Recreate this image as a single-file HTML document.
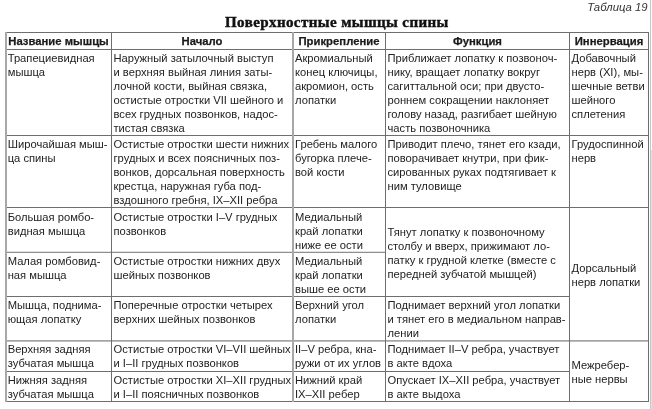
<!DOCTYPE html>
<html><head><meta charset="utf-8"><style>
html,body{margin:0;padding:0;background:#fff;width:652px;height:409px;overflow:hidden;position:relative}
.l{position:absolute}
.t{position:absolute;font-family:"Liberation Sans",sans-serif;font-size:11.2px;line-height:14px;color:#222;white-space:nowrap}
.h{position:absolute;font-family:"Liberation Sans",sans-serif;font-weight:bold;font-size:11.3px;line-height:14px;color:#1a1a1a;-webkit-text-stroke:0.25px #1a1a1a;white-space:nowrap;text-align:center}
.ttl{position:absolute;font-family:"Liberation Serif",serif;font-weight:bold;font-size:13.7px;line-height:14px;color:#111;-webkit-text-stroke:0.4px #111;letter-spacing:0.35px;white-space:nowrap;transform-origin:0 0}
.tab{position:absolute;font-family:"Liberation Sans",sans-serif;font-style:italic;font-size:11.3px;line-height:14px;color:#333;white-space:nowrap;text-align:right}
#wrap{position:absolute;left:0;top:0;width:652px;height:409px;will-change:transform;background:transparent}
</style></head><body><div id=wrap>

<div class="l" style="left:5px;top:32px;width:644px;height:1px;background:#6e6e6e"></div>
<div class="l" style="left:5px;top:49px;width:644px;height:1px;background:#6e6e6e"></div>
<div class="l" style="left:5px;top:135px;width:644px;height:1px;background:#6e6e6e"></div>
<div class="l" style="left:5px;top:207px;width:644px;height:1px;background:#6e6e6e"></div>
<div class="l" style="left:5px;top:251px;width:381px;height:1px;background:#e2e2e2"></div>
<div class="l" style="left:5px;top:252px;width:381px;height:1px;background:#8e8e8e"></div>
<div class="l" style="left:5px;top:296px;width:565px;height:1px;background:#6e6e6e"></div>
<div class="l" style="left:5px;top:340px;width:644px;height:1px;background:#a6a6a6"></div>
<div class="l" style="left:5px;top:341px;width:644px;height:1px;background:#bcbcbc"></div>
<div class="l" style="left:5px;top:371px;width:565px;height:1px;background:#6e6e6e"></div>
<div class="l" style="left:5px;top:401px;width:644px;height:1px;background:#6e6e6e"></div>
<div class="l" style="left:5px;top:32px;width:2px;height:370px;background:#a8a8a8"></div>
<div class="l" style="left:111px;top:32px;width:1px;height:370px;background:#6e6e6e"></div>
<div class="l" style="left:292px;top:32px;width:2px;height:370px;background:#a8a8a8"></div>
<div class="l" style="left:385px;top:32px;width:1px;height:370px;background:#6e6e6e"></div>
<div class="l" style="left:569px;top:32px;width:1px;height:370px;background:#6e6e6e"></div>
<div class="l" style="left:648px;top:32px;width:1px;height:370px;background:#6e6e6e"></div>
<div class="l" style="left:650px;top:0;width:1px;height:409px;background:#c6c6c6"></div>
<div class="l" style="left:651px;top:150px;width:1px;height:259px;background:#e0e0e0"></div>
<div class="ttl" style="left:224.5px;top:16px;transform:scaleX(1.1)">Поверхностные мышцы спины</div>
<div class="tab" style="right:4.5px;top:0px">Таблица 19</div>
<div class="h" style="left:6px;width:105px;top:34px">Название мышцы</div>
<div class="h" style="left:112px;width:180px;top:34px">Начало</div>
<div class="h" style="left:293px;width:92px;top:34px">Прикрепление</div>
<div class="h" style="left:386px;width:183px;top:34px">Функция</div>
<div class="h" style="left:570px;width:78px;top:34px">Иннервация</div>
<div class="t" style="left:7.7px;top:51px">Трапециевидная<br>мышца</div>
<div class="t" style="left:113.5px;top:51px">Наружный затылочный выступ<br>и верхняя выйная линия заты-<br>лочной кости, выйная связка,<br>остистые отростки VII шейного и<br>всех грудных позвонков, надос-<br>тистая связка</div>
<div class="t" style="left:295px;top:51px">Акромиальный<br>конец ключицы,<br>акромион, ость<br>лопатки</div>
<div class="t" style="left:387.5px;top:51px">Приближает лопатку к позвоноч-<br>нику, вращает лопатку вокруг<br>сагиттальной оси; при двусто-<br>роннем сокращении наклоняет<br>голову назад, разгибает шейную<br>часть позвоночника</div>
<div class="t" style="left:571.5px;top:51px">Добавочный<br>нерв (XI), мы-<br>шечные ветви<br>шейного<br>сплетения</div>
<div class="t" style="left:7.7px;top:137px">Широчайшая мыш-<br>ца спины</div>
<div class="t" style="left:113.5px;top:137px">Остистые отростки шести нижних<br>грудных и всех поясничных поз-<br>вонков, дорсальная поверхность<br>крестца, наружная губа под-<br>вздошного гребня, IX–XII ребра</div>
<div class="t" style="left:295px;top:137px">Гребень малого<br>бугорка плече-<br>вой кости</div>
<div class="t" style="left:387.5px;top:137px">Приводит плечо, тянет его кзади,<br>поворачивает кнутри, при фик-<br>сированных руках подтягивает к<br>ним туловище</div>
<div class="t" style="left:571.5px;top:137px">Грудоспинной<br>нерв</div>
<div class="t" style="left:7.7px;top:210px">Большая ромбо-<br>видная мышца</div>
<div class="t" style="left:113.5px;top:210px">Остистые отростки I–V грудных<br>позвонков</div>
<div class="t" style="left:295px;top:210px">Медиальный<br>край лопатки<br>ниже ее ости</div>
<div class="t" style="left:7.7px;top:254px">Малая ромбовид-<br>ная мышца</div>
<div class="t" style="left:113.5px;top:254px">Остистые отростки нижних двух<br>шейных позвонков</div>
<div class="t" style="left:295px;top:254px">Медиальный<br>край лопатки<br>выше ее ости</div>
<div class="t" style="left:387.5px;top:225px">Тянут лопатку к позвоночному<br>столбу и вверх, прижимают ло-<br>патку к грудной клетке (вместе с<br>передней зубчатой мышцей)</div>
<div class="t" style="left:571.5px;top:261px">Дорсальный<br>нерв лопатки</div>
<div class="t" style="left:7.7px;top:298px">Мышца, поднима-<br>ющая лопатку</div>
<div class="t" style="left:113.5px;top:298px">Поперечные отростки четырех<br>верхних шейных позвонков</div>
<div class="t" style="left:295px;top:298px">Верхний угол<br>лопатки</div>
<div class="t" style="left:387.5px;top:298px">Поднимает верхний угол лопатки<br>и тянет его в медиальном направ-<br>лении</div>
<div class="t" style="left:7.7px;top:342px">Верхняя задняя<br>зубчатая мышца</div>
<div class="t" style="left:113.5px;top:342px">Остистые отростки VI–VII шейных<br>и I–II грудных позвонков</div>
<div class="t" style="left:295px;top:342px">II–V ребра, кна-<br>ружи от их углов</div>
<div class="t" style="left:387.5px;top:342px">Поднимает II–V ребра, участвует<br>в акте вдоха</div>
<div class="t" style="left:7.7px;top:373px">Нижняя задняя<br>зубчатая мышца</div>
<div class="t" style="left:113.5px;top:373px">Остистые отростки XI–XII грудных<br>и I–II поясничных позвонков</div>
<div class="t" style="left:295px;top:373px">Нижний край<br>IX–XII ребер</div>
<div class="t" style="left:387.5px;top:373px">Опускает IX–XII ребра, участвует<br>в акте выдоха</div>
<div class="t" style="left:571.5px;top:358px">Межребер-<br>ные нервы</div>
</div></body></html>
